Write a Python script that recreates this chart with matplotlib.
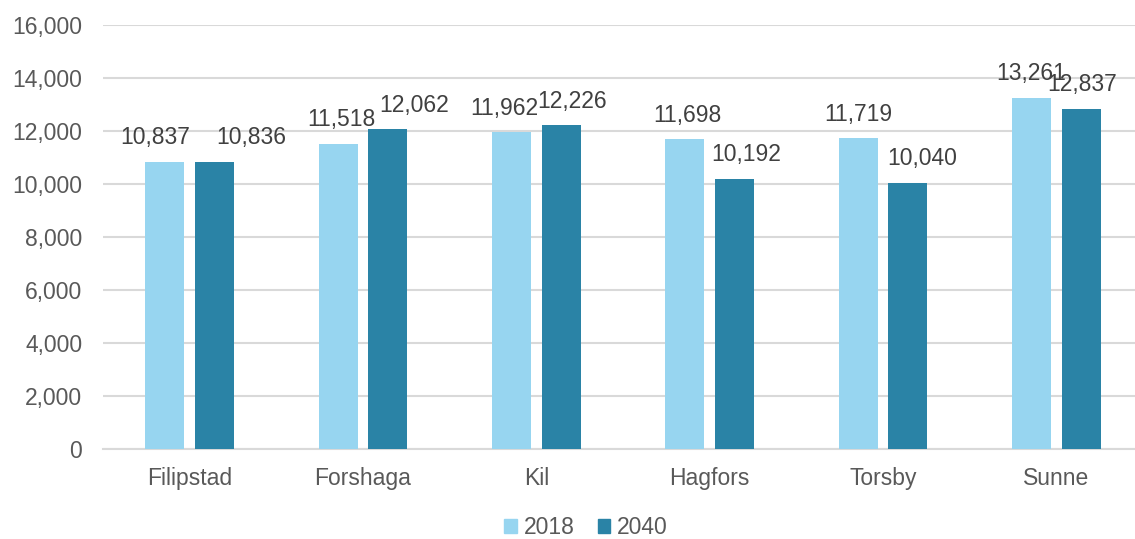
import numpy as np
import matplotlib
matplotlib.use("Agg")
import matplotlib.pyplot as plt
from matplotlib.patches import Patch

# ── Data ─────────────────────────────────────────────────────────────────────
municipalities = ["Filipstad", "Forshaga", "Kil", "Hagfors", "Torsby", "Sunne"]
pop_2018 = [10837, 11518, 11962, 11698, 11719, 13261]
pop_2040 = [10836, 12062, 12226, 10192, 10040, 12837]
series_names = ["2018", "2040"]
y_ticks = [0, 2000, 4000, 6000, 8000, 10000, 12000, 14000, 16000]

# label nudges in pixels (x) — Excel spreads overlapping labels a bit
nudge_2018 = [-10, 3, -7, 2, 0, 0]
nudge_2040 = [37, 26, 11, 12, 14, 1]

LIGHT = "#97D5F0"
DARK = "#2A83A6"
TEXT = "#595959"
GRID = "#D9D9D9"

plt.rcParams["font.family"] = ["Liberation Sans", "DejaVu Sans"]
FS = 16.5

W, H = 1135, 539
fig = plt.figure(figsize=(W / 100, H / 100), dpi=100)
left_px, right_px = 103, 1143
ax = fig.add_axes([left_px / W, (H - 449) / H, (right_px - left_px) / W, 424 / H])
ax.set_clip_on(False)

x = np.arange(len(municipalities))
bw = 0.225
off = 0.143
b1 = ax.bar(x - off, pop_2018, bw, color=LIGHT, zorder=3)
b2 = ax.bar(x + off, pop_2040, bw, color=DARK, zorder=3)

ax.set_xlim(-0.5, 5.5)
ax.set_ylim(0, 16000)
ax.set_yticks(y_ticks)
ax.set_yticklabels([f"{v:,}" for v in y_ticks])
ax.set_xticks(x)
ax.set_xticklabels(municipalities)
ax.tick_params(axis="y", length=0, pad=15, labelsize=FS, labelcolor=TEXT)
ax.tick_params(axis="x", length=0, pad=13, labelsize=FS, labelcolor=TEXT)

ax.grid(axis="y", color=GRID, linewidth=1.5, zorder=0)
for s in ["top", "right", "left"]:
    ax.spines[s].set_visible(False)
ax.spines["bottom"].set_color(GRID)
ax.spines["bottom"].set_linewidth(1.5)

for bars, vals, nud in [(b1, pop_2018, nudge_2018), (b2, pop_2040, nudge_2040)]:
    for bar, v, n in zip(bars, vals, nud):
        ax.annotate(f"{v:,}", (bar.get_x() + bar.get_width() / 2, v),
                    xytext=(n * 0.72, 9), textcoords="offset points",
                    ha="center", va="bottom", fontsize=FS, color="#404040", zorder=4)

handles = [Patch(color=LIGHT), Patch(color=DARK)]
fig.legend(handles, series_names, loc="center", bbox_to_anchor=(586 / W, 1 - 528 / H),
           ncol=2, frameon=False, fontsize=FS, labelcolor=TEXT,
           handlelength=0.55, handleheight=0.55, handletextpad=0.3, columnspacing=1.0)

fig.savefig("out.png", dpi=100)
